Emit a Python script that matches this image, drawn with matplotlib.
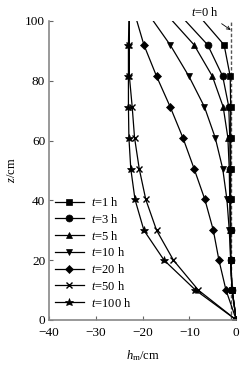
import matplotlib
matplotlib.use("Agg")
import matplotlib.pyplot as plt

plt.rcParams['font.family'] = ['Liberation Serif', 'DejaVu Serif']
plt.rcParams['mathtext.fontset'] = 'custom'
plt.rcParams['mathtext.rm'] = 'Liberation Serif'
plt.rcParams['mathtext.it'] = 'Liberation Serif:italic'

# depth z (cm); last value (100) is the line end without marker
z = [0, 10, 20, 30, 40.3, 50.6, 61, 71.3, 81.5, 92, 100]

h_t1 = [0, -0.9, -1.2, -1.2, -1.2, -1.2, -1.2, -1.2, -1.3, -2.6, -7.0]
h_t3 = [0, -0.9, -1.2, -1.2, -1.3, -1.3, -1.4, -1.6, -2.9, -6.1, -10.8]
h_t5 = [0, -0.9, -1.2, -1.3, -1.4, -1.5, -1.8, -2.8, -5.1, -9.0, -13.6]
h_t10 = [0, -0.9, -1.2, -1.5, -2.0, -2.9, -4.5, -6.8, -10.1, -14.1, -17.7]
h_t20 = [0, -2.2, -3.7, -4.9, -6.7, -9.0, -11.4, -14.1, -17.0, -19.7, -21.2]
h_t50 = [0, -8.1, -13.4, -17.0, -19.3, -20.7, -21.7, -22.2, -22.8, -22.8, -22.8]
h_t100 = [0, -8.7, -15.4, -19.7, -21.6, -22.5, -22.9, -23.0, -23.0, -23.0, -22.9]
h_t0 = [-1.2, -1.2]
z_t0 = [0, 100]

labels = ['$t$=1 h', '$t$=3 h', '$t$=5 h', '$t$=10 h', '$t$=20 h', '$t$=50 h', '$t$=100 h']
series = [h_t1, h_t3, h_t5, h_t10, h_t20, h_t50, h_t100]
markers = ['s', 'o', '^', 'v', 'D', 'x', '*']
msizes = [4.8, 5.0, 5.0, 5.0, 3.6, 4.8, 6.2]

fig = plt.figure(figsize=(2.49, 3.65), dpi=100)
ax = fig.add_axes([0.1956, 0.1233, 0.7534, 0.8192])

ax.plot(h_t0, z_t0, ls=(0, (2.5, 1.5)), color='#555555', lw=1.0)
for h, lab, m, ms in zip(series, labels, markers, msizes):
    ax.plot(h, z, color='black', lw=0.9, marker=m, markersize=ms,
            markevery=list(range(len(z) - 1)), label=lab,
            markeredgewidth=1.0 if m == 'x' else 0.5)

ax.set_xlim(-40, 0)
ax.set_ylim(0, 100)
ax.set_xticks([-40, -30, -20, -10, 0])
ax.set_yticks([0, 20, 40, 60, 80, 100])
for s in ['top', 'right']:
    ax.spines[s].set_visible(False)
for s in ['left', 'bottom']:
    ax.spines[s].set_color('#888888')
    ax.spines[s].set_linewidth(1.2)
ax.tick_params(direction='in', length=3, width=0.8, color='#666666',
               labelsize=9.5)
ax.tick_params(axis='x', pad=5)
ax.tick_params(axis='y', pad=2.5)

ax.set_xlabel('$h_\\mathrm{m}$/cm', fontsize=9, labelpad=7)
ax.set_ylabel('$z$/cm', fontsize=9, labelpad=5)

ax.annotate('$t$=0 h', xy=(-1.2, 97), xytext=(-6.7, 103),
            ha='center', va='center', fontsize=9, annotation_clip=False,
            arrowprops=dict(arrowstyle='->', lw=0.6, color='black',
                            shrinkA=3, shrinkB=0, mutation_scale=6))

ax.legend(loc='lower left', bbox_to_anchor=(0.034, 0.035), frameon=False,
          fontsize=9, handlelength=2.3, labelspacing=0.3, handletextpad=0.6,
          borderpad=0, borderaxespad=0)

fig.savefig('out.png', dpi=100)
